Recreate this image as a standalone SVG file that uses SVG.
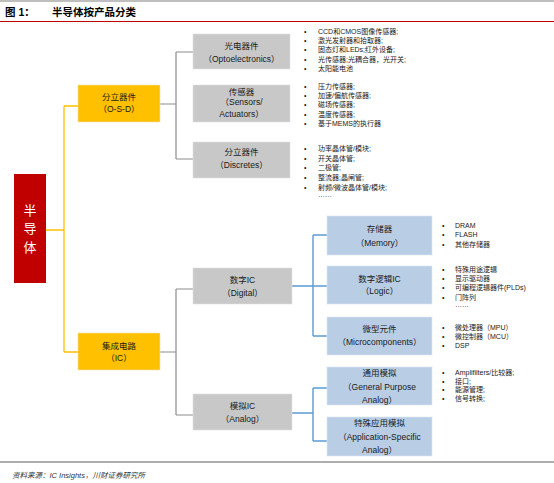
<svg xmlns="http://www.w3.org/2000/svg" width="554" height="483" viewBox="0 0 554 483">
<style>
text{font-family:"Liberation Sans","Noto Sans CJK SC",sans-serif;fill:#000}
.t{font-size:10.5px;font-weight:bold}
.b{font-size:8.5px;text-anchor:middle;fill:#1a1a1a}
.l{font-size:7px;fill:#1a1a1a}
.red{fill:#C00000}
.yel{fill:#FFC000;stroke:#F2E2B0;stroke-width:0.6}
.gry{fill:#C8C8C8;stroke:#E2E2E2;stroke-width:0.6}
.blu{fill:#B9CDE5;stroke:#DCE6F2;stroke-width:0.6}
.cy{stroke:#FFC000;stroke-width:1.3;fill:none}
.cg{stroke:#8C8C8C;stroke-width:1.2;fill:none}
.cb{stroke:#5B9BD5;stroke-width:1.4;fill:none}
</style>
<rect width="554" height="483" fill="#fff"/>
<line x1="0" y1="1" x2="554" y2="1" stroke="#7F7F7F" stroke-width="1.2"/>
<text class="t" x="5" y="16">图 1：</text>
<text class="t" x="52" y="16">半导体按产品分类</text>
<line x1="0" y1="21.5" x2="554" y2="21.5" stroke="#C00000" stroke-width="1.2"/>

<g id="connectors">
<path class="cy" d="M46 230H64M64 106V352M64 106H78M64 352H78"/>
<path class="cg" d="M160 104H176M176 52V159M176 52H193M176 159H193"/>
<path class="cg" d="M160 352H176M176 289V415M176 289H193M176 415H193"/>
<path class="cb" d="M292 286H327M313 235V336M313 235H327M313 336H327"/>
<path class="cb" d="M292 413H313M313 388V441M313 388H327M313 441H327"/>
</g>

<g id="semi">
<rect class="red" x="14" y="174" width="32" height="109"/>
<text x="30" y="215" style="font-size:13px;fill:#fff;text-anchor:middle">半</text>
<text x="30" y="233" style="font-size:13px;fill:#fff;text-anchor:middle">导</text>
<text x="30" y="252" style="font-size:13px;fill:#fff;text-anchor:middle">体</text>
</g>

<g id="osd">
<rect class="yel" x="78" y="85" width="82" height="37"/>
<text class="b" x="119" y="100">分立器件</text>
<text class="b" x="119" y="112">（O-S-D）</text>
</g>
<g id="ic">
<rect class="yel" x="78" y="333" width="82" height="37"/>
<text class="b" x="119" y="349">集成电路</text>
<text class="b" x="119" y="361">（IC）</text>
</g>

<g id="opto">
<rect class="gry" x="193" y="34" width="97" height="35"/>
<text class="b" x="241.5" y="49">光电器件</text>
<text class="b" x="241.5" y="62">（Optoelectronics）</text>
</g>
<g id="sensors">
<rect class="gry" x="193" y="85" width="97" height="37"/>
<text class="b" x="241.5" y="95">传感器</text>
<text class="b" x="241.5" y="105">（Sensors/</text>
<text class="b" x="241.5" y="117">Actuators）</text>
</g>
<g id="discretes">
<rect class="gry" x="193" y="142" width="97" height="36"/>
<text class="b" x="241.5" y="155">分立器件</text>
<text class="b" x="241.5" y="168">（Discretes）</text>
</g>
<g id="digital">
<rect class="gry" x="193" y="268" width="99" height="36"/>
<text class="b" x="242.5" y="283">数字IC</text>
<text class="b" x="242.5" y="296">（Digital）</text>
</g>
<g id="analog">
<rect class="gry" x="193" y="394" width="99" height="36"/>
<text class="b" x="242.5" y="409">模拟IC</text>
<text class="b" x="242.5" y="422">（Analog）</text>
</g>

<g id="memory">
<rect class="blu" x="327" y="216" width="105" height="39"/>
<text class="b" x="379.5" y="232">存储器</text>
<text class="b" x="379.5" y="246">（Memory）</text>
</g>
<g id="logic">
<rect class="blu" x="327" y="266" width="105" height="38"/>
<text class="b" x="379.5" y="282">数字逻辑IC</text>
<text class="b" x="379.5" y="294">（Logic）</text>
</g>
<g id="micro">
<rect class="blu" x="327" y="317" width="105" height="38"/>
<text class="b" x="379.5" y="332">微型元件</text>
<text class="b" x="379.5" y="345">（Microcomponents）</text>
</g>
<g id="general">
<rect class="blu" x="327" y="367" width="105" height="38"/>
<text class="b" x="379.5" y="376">通用模拟</text>
<text class="b" x="379.5" y="390">（General Purpose</text>
<text class="b" x="379.5" y="403">Analog）</text>
</g>
<g id="appspec">
<rect class="blu" x="327" y="417" width="105" height="39"/>
<text class="b" x="379.5" y="426">特殊应用模拟</text>
<text class="b" x="379.5" y="440">（Application-Specific</text>
<text class="b" x="379.5" y="453">Analog）</text>
</g>

<g id="list-opto">
<text class="l" x="304" y="33.5">•</text><text class="l" x="318" y="33.5">CCD和CMOS图像传感器;</text>
<text class="l" x="304" y="43">•</text><text class="l" x="318" y="43">激光发射器和拾取器;</text>
<text class="l" x="304" y="52">•</text><text class="l" x="318" y="52">固态灯和LEDs;红外设备;</text>
<text class="l" x="304" y="61.5">•</text><text class="l" x="318" y="61.5">光传感器;光耦合器，光开关;</text>
<text class="l" x="304" y="71">•</text><text class="l" x="318" y="71">太阳能电池</text>
</g>
<g id="list-sensors">
<text class="l" x="304" y="88.5">•</text><text class="l" x="318" y="88.5">压力传感器;</text>
<text class="l" x="304" y="97.5">•</text><text class="l" x="318" y="97.5">加速/偏航传感器;</text>
<text class="l" x="304" y="107">•</text><text class="l" x="318" y="107">磁场传感器;</text>
<text class="l" x="304" y="116.5">•</text><text class="l" x="318" y="116.5">温度传感器;</text>
<text class="l" x="304" y="126">•</text><text class="l" x="318" y="126">基于MEMS的执行器</text>
</g>
<g id="list-discretes">
<text class="l" x="304" y="150.5">•</text><text class="l" x="318" y="150.5">功率晶体管/模块;</text>
<text class="l" x="304" y="160.5">•</text><text class="l" x="318" y="160.5">开关晶体管;</text>
<text class="l" x="304" y="169.5">•</text><text class="l" x="318" y="169.5">二极管;</text>
<text class="l" x="304" y="179.5">•</text><text class="l" x="318" y="179.5">整流器;晶闸管;</text>
<text class="l" x="304" y="189.5">•</text><text class="l" x="318" y="189.5">射频/微波晶体管/模块;</text>
<text class="l" x="318" y="197">……</text>
</g>
<g id="list-memory">
<text class="l" x="442" y="227.5">•</text><text class="l" x="455" y="227.5">DRAM</text>
<text class="l" x="442" y="236.5">•</text><text class="l" x="455" y="236.5">FLASH</text>
<text class="l" x="442" y="246.5">•</text><text class="l" x="455" y="246.5">其他存储器</text>
</g>
<g id="list-logic">
<text class="l" x="442" y="271.5">•</text><text class="l" x="455" y="271.5">特殊用途逻辑</text>
<text class="l" x="442" y="280.5">•</text><text class="l" x="455" y="280.5">显示驱动器</text>
<text class="l" x="442" y="290">•</text><text class="l" x="455" y="290">可编程逻辑器件(PLDs)</text>
<text class="l" x="442" y="299.5">•</text><text class="l" x="455" y="299.5">门阵列</text>
<text class="l" x="455" y="307">……</text>
</g>
<g id="list-micro">
<text class="l" x="442" y="329.5">•</text><text class="l" x="455" y="329.5">微处理器（MPU）</text>
<text class="l" x="442" y="338.5">•</text><text class="l" x="455" y="338.5">微控制器（MCU）</text>
<text class="l" x="442" y="347.5">•</text><text class="l" x="455" y="347.5">DSP</text>
</g>
<g id="list-analog">
<text class="l" x="442" y="374.5">•</text><text class="l" x="455" y="374.5">Amplifilters/比较器;</text>
<text class="l" x="442" y="383.5">•</text><text class="l" x="455" y="383.5">接口;</text>
<text class="l" x="442" y="392">•</text><text class="l" x="455" y="392">能源管理;</text>
<text class="l" x="442" y="400.5">•</text><text class="l" x="455" y="400.5">信号转换;</text>
</g>

<line x1="0" y1="462" x2="554" y2="462" stroke="#333" stroke-width="0.8"/>
<text x="12" y="478" style="font-size:7.5px;font-style:italic;fill:#333">资料来源：IC Insights，川财证券研究所</text>
</svg>
